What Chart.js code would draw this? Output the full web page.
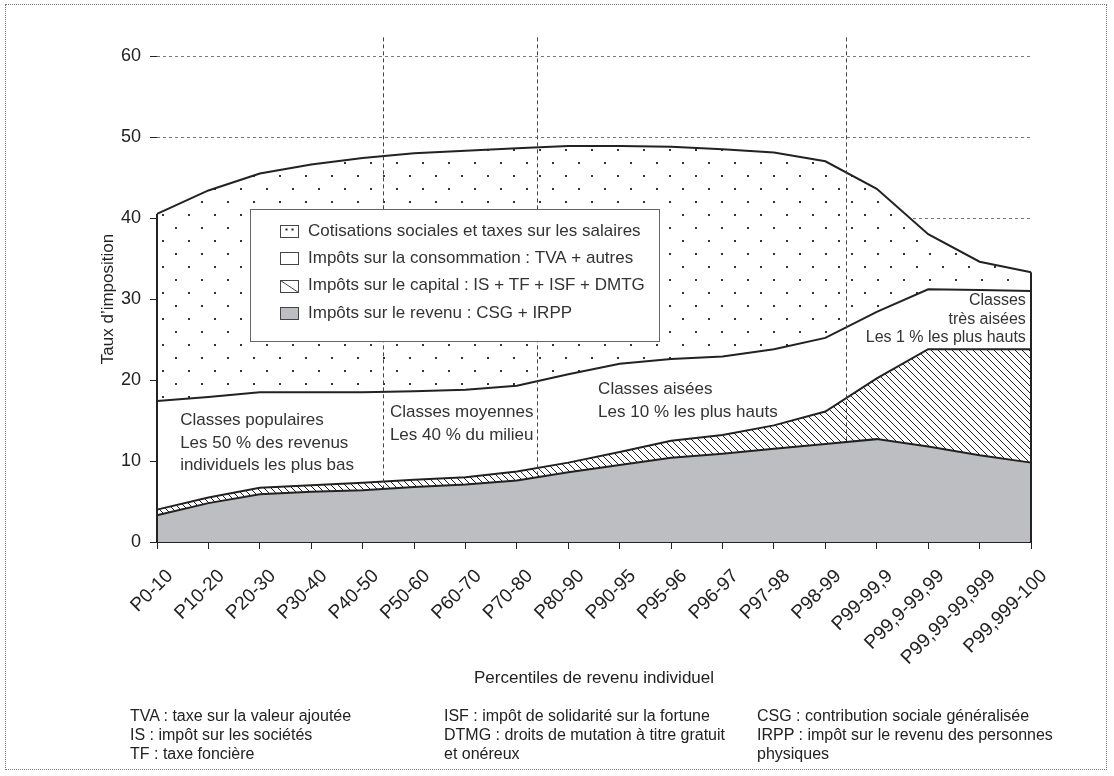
<!DOCTYPE html>
<html>
<head>
<meta charset="utf-8">
<script src="https://cdn.jsdelivr.net/npm/chart.js@4"></script>
<style>
  body { margin: 0; background: #fff; font-family: "Liberation Sans", Arial, sans-serif; color: #222; }
  #wrap { position: relative; width: 1114px; height: 776px; }
  #frame { position: absolute; left: 5px; top: 4px; width: 1102px; height: 766px; border: 1px dotted #777; box-sizing: border-box; }
  canvas { position: absolute; left: 0; top: 0; }
  .notes { position: absolute; top: 706px; font-size: 16px; line-height: 19px; white-space: nowrap; }
</style>
</head>
<body>
<div id="wrap">
  <div id="frame"></div>
  <canvas id="taxChart" width="1114" height="776"></canvas>
  <div class="notes" style="left:130px">TVA : taxe sur la valeur ajoutée<br>IS : impôt sur les sociétés<br>TF : taxe foncière</div>
  <div class="notes" style="left:444px">ISF : impôt de solidarité sur la fortune<br>DTMG : droits de mutation à titre gratuit<br>et onéreux</div>
  <div class="notes" style="left:757px">CSG : contribution sociale généralisée<br>IRPP : impôt sur le revenu des personnes<br>physiques</div>
</div>
<script>
const categories = ['P0-10', 'P10-20', 'P20-30', 'P30-40', 'P40-50', 'P50-60', 'P60-70', 'P70-80', 'P80-90',
  'P90-95', 'P95-96', 'P96-97', 'P97-98', 'P98-99', 'P99-99,9', 'P99,9-99,99', 'P99,99-99,999', 'P99,999-100'];

// taux par composante (empilés)
const revenu       = [3.3, 4.8, 5.9, 6.2, 6.4, 6.8, 7.1, 7.6, 8.6, 9.5, 10.4, 10.9, 11.5, 12.1, 12.7, 11.8, 10.7, 9.8];
const capital      = [0.7, 0.7, 0.8, 0.8, 0.9, 0.9, 0.9, 1.1, 1.2, 1.6, 2.1, 2.3, 2.9, 4.0, 7.5, 12.0, 13.1, 14.0];
const consommation = [13.4, 12.4, 11.8, 11.5, 11.2, 10.9, 10.8, 10.6, 10.9, 10.9, 10.1, 9.7, 9.4, 9.1, 8.2, 7.4, 7.3, 7.2];
const cotisations  = [23.1, 25.5, 27.0, 28.1, 28.9, 29.4, 29.5, 29.3, 28.2, 26.9, 26.2, 25.6, 24.3, 21.8, 15.2, 6.8, 3.5, 2.3];

const yTicks = [0, 10, 20, 30, 40, 50, 60];
const seriesLabels = [
  'Impôts sur le revenu : CSG + IRPP',
  'Impôts sur le capital : IS + TF + ISF + DMTG',
  'Impôts sur la consommation : TVA + autres',
  'Cotisations sociales et taxes sur les salaires'
];
// séparations entre groupes de classes (position en index de catégorie)
const dividers = [4.4, 7.4, 13.4];
const dividerTop = 62.3;

const annotations = [
  { x: 0.45, y: 15.0, step: 22.5, align: 'left', size: 17, lines: ['Classes populaires', 'Les 50 % des revenus', 'individuels les plus bas'] },
  { x: 4.53, y: 16.0, step: 23, align: 'left', size: 17, lines: ['Classes moyennes', 'Les 40 % du milieu'] },
  { x: 8.58, y: 18.8, step: 23, align: 'left', size: 17, lines: ['Classes aisées', 'Les 10 % les plus hauts'] },
  { x: 16.9, y: 29.8, step: 18.7, align: 'right', size: 16, lines: ['Classes', 'très aisées', 'Les 1 % les plus hauts'] }
];

const FONT = '"Liberation Sans", Arial, sans-serif';
const INK = '#222';
const GREY = '#bdbec1';

function dotPattern() {
  const c = document.createElement('canvas');
  c.width = 26; c.height = 26;
  const g = c.getContext('2d');
  g.fillStyle = '#fff'; g.fillRect(0, 0, 26, 26);
  g.fillStyle = '#333';
  g.fillRect(6, 6, 2, 2);
  g.fillRect(19, 19, 2, 2);
  return g.createPattern(c, 'repeat');
}

function hatchPattern() {
  const s = 7;
  const c = document.createElement('canvas');
  c.width = s; c.height = s;
  const g = c.getContext('2d');
  g.fillStyle = '#fff'; g.fillRect(0, 0, s, s);
  g.strokeStyle = '#222'; g.lineWidth = 1;
  g.beginPath();
  g.moveTo(-1, -1); g.lineTo(s + 1, s + 1);
  g.moveTo(-1, s - 1); g.lineTo(1, s + 1);
  g.moveTo(s - 1, -1); g.lineTo(s + 1, 1);
  g.stroke();
  return g.createPattern(c, 'repeat');
}

const dots = dotPattern();
const hatch = hatchPattern();

function drawSwatch(ctx, idx, x, y, w, h) {
  ctx.fillStyle = idx === 0 ? GREY : '#fff';
  ctx.fillRect(x, y, w, h);
  ctx.strokeStyle = '#444';
  ctx.lineWidth = 1;
  ctx.setLineDash([]);
  if (idx === 1) {
    ctx.beginPath(); ctx.moveTo(x, y); ctx.lineTo(x + w, y + h); ctx.stroke();
  }
  if (idx === 3) {
    ctx.fillStyle = '#222';
    ctx.fillRect(x + 5, y + 3, 2, 2);
    ctx.fillRect(x + 11, y + 3, 2, 2);
  }
  ctx.strokeRect(x, y, w, h);
}

const overlay = {
  id: 'overlay',
  afterDatasetDraw(chart, args) {
    if (args.index !== 1) return;
    const { ctx, chartArea, scales: { x, y } } = chart;
    ctx.save();
    ctx.strokeStyle = '#444';
    ctx.lineWidth = 1;
    ctx.setLineDash([4, 3]);
    dividers.forEach(d => {
      const px = Math.round(x.getPixelForValue(d)) + 0.5;
      ctx.beginPath();
      ctx.moveTo(px, y.getPixelForValue(dividerTop));
      ctx.lineTo(px, chartArea.bottom);
      ctx.stroke();
    });
    ctx.restore();
  },
  afterDatasetsDraw(chart) {
    const { ctx, chartArea, scales: { x, y } } = chart;
    ctx.save();

    // bords verticaux de la zone empilée
    const top = chart.getDatasetMeta(3).data;
    ctx.strokeStyle = INK;
    ctx.lineWidth = 2;
    [top[0], top[top.length - 1]].forEach(p => {
      ctx.beginPath();
      ctx.moveTo(p.x, p.y);
      ctx.lineTo(p.x, chartArea.bottom);
      ctx.stroke();
    });

    // textes des classes
    ctx.fillStyle = '#333';
    ctx.textBaseline = 'middle';
    annotations.forEach(a => {
      ctx.font = a.size + 'px ' + FONT;
      ctx.textAlign = a.align;
      const px = x.getPixelForValue(a.x);
      const py = y.getPixelForValue(a.y);
      a.lines.forEach((t, i) => ctx.fillText(t, px, py + i * a.step));
    });

    // légende
    const box = { left: 250, top: 209, width: 409, height: 132 };
    ctx.fillStyle = '#fff';
    ctx.fillRect(box.left, box.top, box.width, box.height);
    ctx.strokeStyle = '#666';
    ctx.lineWidth = 1;
    ctx.strokeRect(box.left + 0.5, box.top + 0.5, box.width, box.height);
    ctx.font = '17px ' + FONT;
    ctx.textAlign = 'left';
    [3, 2, 1, 0].forEach((idx, row) => {
      const ry = box.top + 22 + row * 27.3;
      drawSwatch(ctx, idx, box.left + 30.5, Math.round(ry - 6) + 0.5, 18, 12);
      ctx.fillStyle = '#333';
      ctx.fillText(seriesLabels[idx], box.left + 58, ry);
    });
    ctx.restore();
  }
};

Chart.defaults.font.family = FONT;
Chart.defaults.color = INK;

const lineStyle = { borderColor: INK, borderWidth: 2, pointRadius: 0, tension: 0 };

new Chart(document.getElementById('taxChart'), {
  type: 'line',
  data: {
    labels: categories,
    datasets: [
      { label: seriesLabels[0], data: revenu, fill: 'origin', backgroundColor: GREY, ...lineStyle },
      { label: seriesLabels[1], data: capital, fill: '-1', backgroundColor: hatch, ...lineStyle },
      { label: seriesLabels[2], data: consommation, fill: '-1', backgroundColor: '#fff', ...lineStyle },
      { label: seriesLabels[3], data: cotisations, fill: '-1', backgroundColor: dots, ...lineStyle }
    ]
  },
  options: {
    responsive: false,
    animation: false,
    layout: { padding: { left: 94, right: 83, top: 56, bottom: 83 } },
    plugins: {
      legend: { display: false },
      tooltip: { enabled: false }
    },
    scales: {
      x: {
        z: 1,
        afterFit: s => { s.height = 151; },
        border: { color: INK, width: 2 },
        grid: { drawOnChartArea: false, color: INK, tickLength: 7 },
        ticks: { maxRotation: 45, minRotation: 45, font: { size: 19 }, color: INK, padding: 16, labelOffset: 13 },
        title: { display: true, text: 'Percentiles de revenu individuel', font: { size: 17 }, color: INK }
      },
      y: {
        stacked: true,
        min: 0,
        max: 60,
        afterFit: s => { s.width = 63; },
        afterBuildTicks: s => { s.ticks = yTicks.map(v => ({ value: v })); },
        border: { display: false, dash: [3, 3] },
        grid: { color: '#777', tickColor: INK, tickBorderDash: [], tickLength: 7 },
        ticks: { font: { size: 18 }, color: INK, padding: 9 },
        title: { display: true, text: 'Taux d’imposition', font: { size: 17 }, color: INK }
      }
    }
  },
  plugins: [overlay]
});
</script>
</body>
</html>
